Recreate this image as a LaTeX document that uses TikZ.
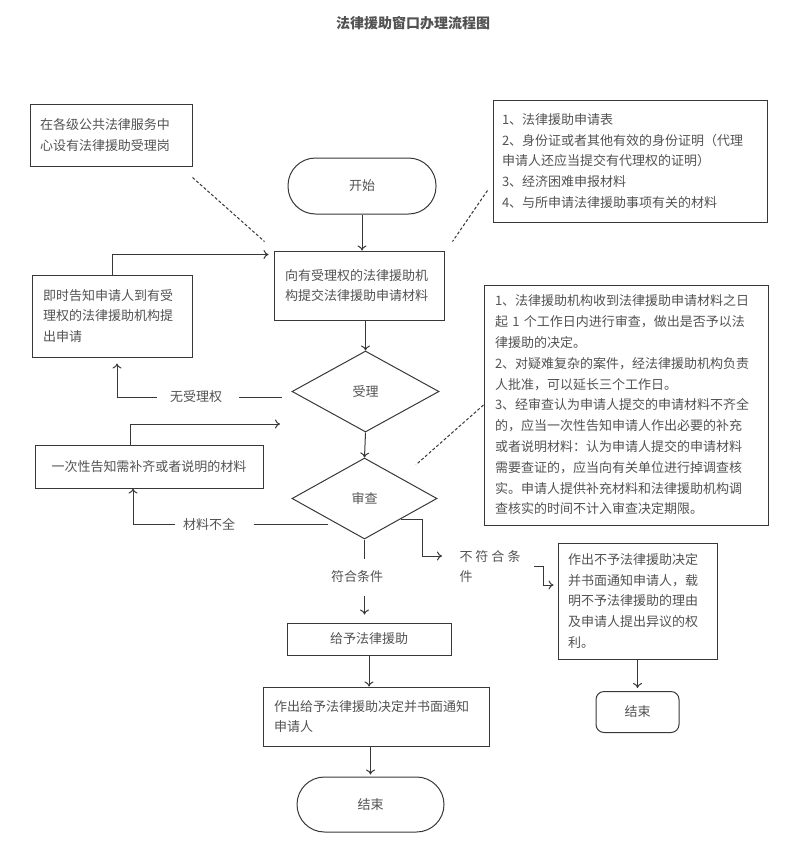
\documentclass[tikz,border=0pt]{standalone}
\usepackage{fontspec}
\setmainfont{Noto Sans CJK SC}
\usepackage{tikz}
\usetikzlibrary{shapes.geometric, arrows.meta, calc}

\begin{document}
\begin{tikzpicture}[x=1pt, y=-1pt, color=black!78, line width=1pt, >={To[length=5pt, width=9pt]}]%
            \tikzstyle{box}=[draw, rectangle, inner ysep=0pt, text=black!68, font=\fontsize{13}{20.8}\selectfont, align=left];%
            \tikzstyle{term}=[draw, rectangle, rounded corners=27.5pt, text=black!68, font=\fontsize{13}{20.8}\selectfont];%
            \tikzstyle{choice}=[draw, diamond, inner sep=0pt, text=black!68, font=\fontsize{13}{20.8}\selectfont];%
            \tikzstyle{tag}=[inner sep=0pt, text=black!68, font=\fontsize{13}{20.8}\selectfont];%
            \useasboundingbox (0, 0) rectangle (800, 849);

            \node (t) at (413, 23) [tag, font=\fontsize{14}{16}\selectfont\bfseries] {法律援助窗口办理流程图};

            \node (1) at (111, 135) [box, minimum height=62pt, text width=142pt, inner xsep=10pt] {在各级公共法律服务中\\心设有法律援助受理岗};
            \node (0) at (362, 186) [term, minimum width=148pt, minimum height=56pt] {开始};
            \node (2) at (359, 285.5) [box, minimum height=69pt, text width=148pt, inner xsep=11pt] {向有受理权的法律援助机\\构提交法律援助申请材料};
            \node (3) at (630, 161) [box, minimum height=122pt, text width=256pt, inner xsep=9pt] {1、法律援助申请表\\2、身份证或者其他有效的身份证明（代理\\申请人还应当提交有代理权的证明）\\3、经济困难申报材料\\4、与所申请法律援助事项有关的材料};
            \node (4) at (112, 316) [box, minimum height=82pt, text width=138pt, inner xsep=11pt] {即时告知申请人到有受\\理权的法律援助机构提\\出申请};
            \node (5) at (365.5, 391.5) [choice, minimum width=147pt, minimum height=81pt] {受理};
            \node (6) at (626, 405) [box, minimum height=240pt, text width=262pt, inner xsep=11pt] {1、法律援助机构收到法律援助申请材料之日\\起 1 个工作日内进行审查，做出是否予以法\\律援助的决定。\\2、对疑难复杂的案件，经法律援助机构负责\\人批准，可以延长三个工作日。\\3、经审查认为申请人提交的申请材料不齐全\\的，应当一次性告知申请人作出必要的补充\\或者说明材料：认为申请人提交的申请材料\\需要查证的，应当向有关单位进行掉调查核\\实。申请人提供补充材料和法律援助机构调\\查核实的时间不计入审查决定期限。};
            \node (7) at (149, 466.5) [box, minimum width=228pt, minimum height=43pt, align=center] {一次性告知需补齐或者说明的材料};
            \node (8) at (364.5, 498.5) [choice, minimum width=145pt, minimum height=81pt] {审查};
            \node (9) at (196, 397) [tag] {无受理权};
            \node (10) at (209, 524) [tag] {材料不全};
            \node (11) at (357, 577) [tag, minimum height=36pt] {符合条件};
            \node (12) at (459, 566.5) [tag, anchor=west, align=left] {不\hspace{3pt}符\hspace{3pt}合\hspace{3pt}条\\件};
            \node (13) at (637.5, 601) [box, minimum height=116pt, text width=139pt, inner xsep=10pt] {作出不予法律援助决定\\并书面通知申请人，载\\明不予法律援助的理由\\及申请人提出异议的权\\利。};
            \node (14) at (637.5, 712) [term, rounded corners=8pt, minimum width=83pt, minimum height=41pt] {结束};
            \node (15) at (369, 639) [box, minimum width=164pt, minimum height=32pt, align=center] {给予法律援助};
            \node (16) at (376, 716.5) [box, minimum height=59pt, text width=204pt, inner xsep=11pt] {作出给予法律援助决定并书面通知\\申请人};
            \node (17) at (370.5, 804.5) [term, minimum width=147pt, minimum height=55pt] {结束};
            \coordinate (r) at (280, 424);

            % main line
            \draw (0.south) edge[->] (0.south |- 2.north);
            \draw (5.north |- 2.south) edge[->] (5.north);
            \draw (5.south) edge[->] (8.north);
            \draw (8.south) -- (8.south |- 11.north);
            \draw (8.south |- 11.south) edge[->, shorten >=8pt] (8.south |- 15.north);
            \draw (15.south) edge[->] (15.south |- 16.north);
            \draw (17.north |- 16.south) edge[->, shorten >=2pt] (17.north);

            % side branches
            \draw ([shift={(-10pt,-5.5pt)}]5.west) -- ([xshift=16pt]9.east);
            \draw[->, shorten >=6pt] ([xshift=-13pt]9.west) -| ([xshift=5pt]4.south);
            \draw[->, shorten >=5pt] (4.north) |- ([yshift=-4pt]2.north west);
            \draw[->] ([xshift=-19pt]7.north) |- (r);
            \draw ([xshift=18pt]10.east) -- (10.east -| 8.south west);
            \draw[->] ([xshift=-8pt]10.west) -| ([xshift=-16pt]7.south);
            \draw[->] (8.south east) -- ++(21, 0) |- ([shift={(-17pt,10.5pt)}]12.west);
            \draw[->] ([xshift=13pt]12.east) -- ++(9, 0) |- ([shift={(-4pt,16pt)}]13.west);
            \draw (13.south) edge[->, shorten >=3pt] (14.north);

            % notes
            \draw[densely dashed] ([yshift=-11pt]1.south east) -- ([shift={(-9pt,9pt)}]2.north west);
            \draw[densely dashed] ([shift={(-5pt,32pt)}]3.south west) -- ([shift={(8pt,9pt)}]2.north east);
            \draw[densely dashed, shorten >=20pt] (6.west) -- (8.north east);
        \end{tikzpicture}
\end{document}
